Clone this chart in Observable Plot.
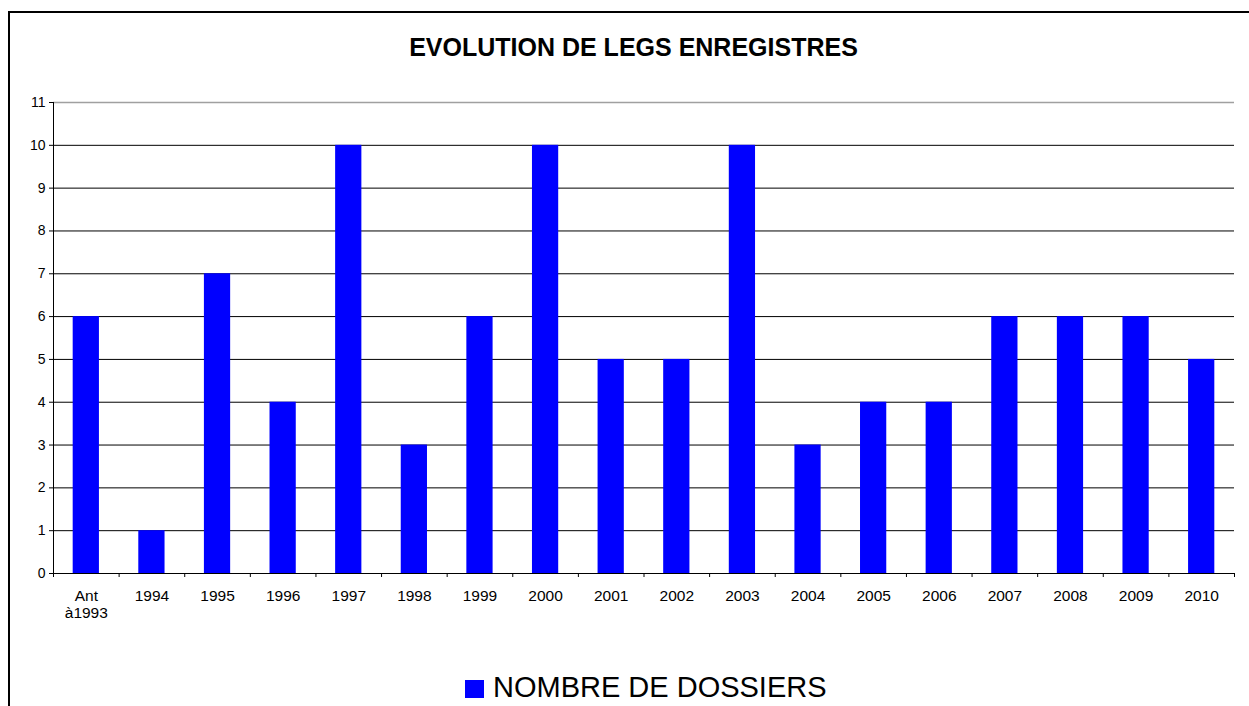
<!DOCTYPE html>
<html>
<head>
<meta charset="utf-8">
<script src="https://cdn.jsdelivr.net/npm/d3@7"></script>
<script src="https://cdn.jsdelivr.net/npm/@observablehq/plot@0.6"></script>
<style>
  html, body { margin: 0; padding: 0; background: #fff; overflow: hidden; width: 1249px; height: 706px; }
  body { position: relative; font-family: "Liberation Sans", Arial, sans-serif; }
  #frame { position: absolute; left: 8px; top: 11px; width: 1400px; height: 900px; border-left: 2px solid #000; border-top: 2px solid #000; z-index: 3; pointer-events: none; }
  #title { position: absolute; left: 9px; top: 35px; width: 1249px; text-align: center; font-weight: bold; font-size: 25px; line-height: 25px; color: #000; z-index: 2; }
  #chart { position: absolute; left: 0; top: 0; z-index: 1; }
  #legend-swatch { position: absolute; left: 465px; top: 680px; width: 19px; height: 18px; background: #0000ff; z-index: 2; }
  #legend-text { position: absolute; left: 493px; top: 673px; font-size: 29px; line-height: 29px; color: #000; white-space: nowrap; z-index: 2; }
</style>
</head>
<body>
<div id="frame"></div>
<div id="title"></div>
<div id="chart"></div>
<div id="legend-swatch"></div>
<div id="legend-text"></div>
<script>
const titleText = "EVOLUTION DE LEGS ENREGISTRES";
const seriesName = "NOMBRE DE DOSSIERS";
const categories = ["Ant\nà1993", "1994", "1995", "1996", "1997", "1998", "1999", "2000", "2001", "2002", "2003", "2004", "2005", "2006", "2007", "2008", "2009", "2010"];
const values = [6, 1, 7, 4, 10, 3, 6, 10, 5, 5, 10, 3, 4, 4, 6, 6, 6, 5];
const yTicks = [0, 1, 2, 3, 4, 5, 6, 7, 8, 9, 10, 11];
const gridTicks = [1, 2, 3, 4, 5, 6, 7, 8, 9, 10];
const yMax = 11;

document.getElementById("title").textContent = titleText;
document.getElementById("legend-text").textContent = seriesName;

const data = categories.map((c, i) => ({cat: c, value: values[i]}));

const W = 1249, H = 640, mL = 53, mR = 15, mT = 102, mB = 67;
const step = (W - mL - mR) / categories.length;

const chart = Plot.plot({
  width: W,
  height: H,
  marginTop: mT,
  marginBottom: mB,
  marginLeft: mL,
  marginRight: mR,
  style: {background: "transparent", fontFamily: "'Liberation Sans', Arial, sans-serif", color: "#000", overflow: "visible"},
  x: {domain: categories, paddingInner: 0.6, paddingOuter: 0.3, round: false, axis: null, label: null},
  y: {domain: [0, yMax], axis: null, label: null},
  marks: [
    Plot.gridY(gridTicks, {stroke: "#000", strokeOpacity: 1, strokeWidth: 1}),
    Plot.ruleY([yMax], {stroke: "#a0a0a0", strokeWidth: 1.5}),
    Plot.barY(data, {x: "cat", y: "value", fill: "#0000ff"}),
    Plot.ruleY([0], {stroke: "#000", strokeWidth: 1}),
    Plot.ruleX([categories[0]], {x: d => d, dx: -step / 2, y1: 0, y2: yMax, stroke: "#000"}),
    Plot.ruleX(categories, {x: d => d, dx: -step / 2, y1: 0, y2: 0, insetBottom: -4, stroke: "#000"}),
    Plot.ruleX([categories[categories.length - 1]], {x: d => d, dx: step / 2, y1: 0, y2: 0, insetBottom: -4, stroke: "#000"}),
    Plot.axisX({tickSize: 0, tickPadding: 15, fontSize: 15.5, lineHeight: 1.1, label: null}),
    Plot.axisY(yTicks, {tickSize: 4, tickPadding: 4, fontSize: 14, label: null})
  ]
});
document.getElementById("chart").appendChild(chart);
</script>
</body>
</html>
